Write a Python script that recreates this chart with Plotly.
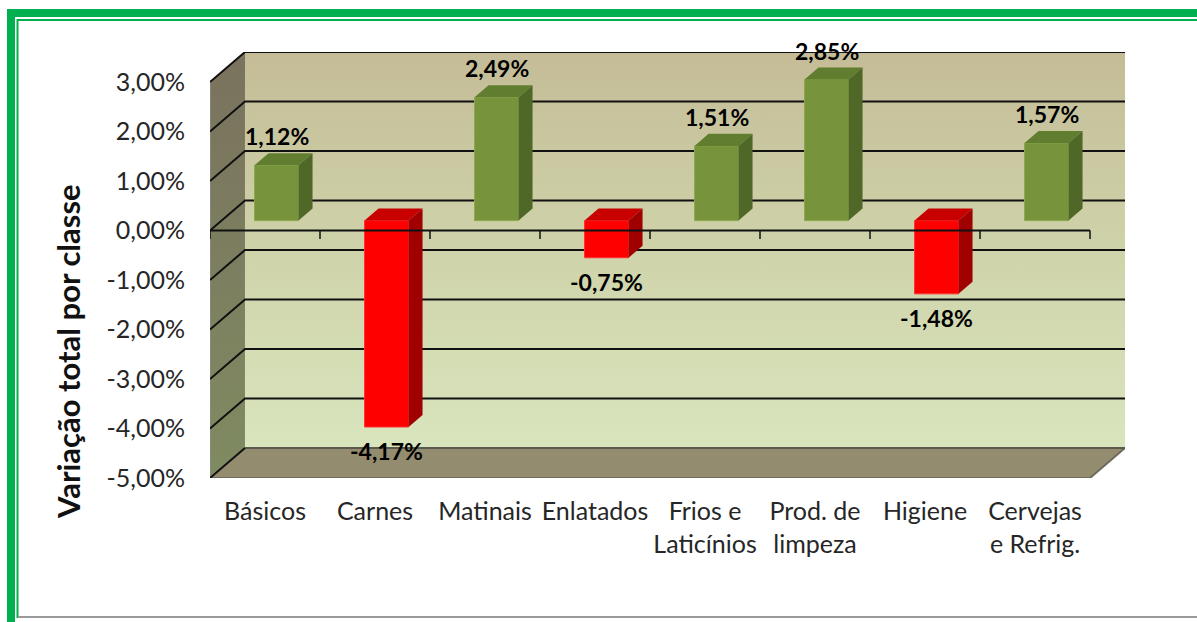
import plotly.graph_objects as go

# ---------------- data ----------------
categories = ["Básicos", "Carnes", "Matinais", "Enlatados", "Frios e<br>Laticínios",
              "Prod. de<br>limpeza", "Higiene", "Cervejas<br>e Refrig."]
values = [1.12, -4.17, 2.49, -0.75, 1.51, 2.85, -1.48, 1.57]
y_ticks = [-5, -4, -3, -2, -1, 0, 1, 2, 3]
y_title = "Variação total por classe"

# ---------------- geometry / style ----------------
W, H = 1197, 622
PL, PR, PT, PB = 210, 1125, 52, 478   # plot area in window pixels
ML, MR, MT, MB = PL, W - PR, PT, H - PB
DX, DY = 0.318, 0.607          # full depth of the 3D box in data units
F1, F2 = 0.33, 0.73            # depth fractions of bar front / back faces
BW = 0.40                      # bar width
YMIN, YMAX = y_ticks[0], y_ticks[-1]
X0, X1 = -0.5, len(categories) - 0.5
FONT = "Lato"

GREEN_F, GREEN_T, GREEN_S = "#77933c", "#617d2f", "#4f6727"
RED_F, RED_T, RED_S = "#ff0000", "#c80000", "#a00000"


def px_x(p):
    return (p - PL) / (PR - PL)


def px_y(p):
    return (PB - p) / (PB - PT)


def fmt(v):
    return f"{v:.2f}".replace(".", ",") + "%"


fig = go.Figure()


def poly(xs, ys, color, axes=("x", "y"), gradient=None):
    kw = dict(x=xs + [xs[0]], y=ys + [ys[0]], mode="lines", fill="toself",
              hoverinfo="skip", showlegend=False, xaxis=axes[0], yaxis=axes[1],
              line=dict(width=0, color=color))
    if gradient:
        kw["fillgradient"] = gradient
    else:
        kw["fillcolor"] = color
    fig.add_trace(go.Scatter(**kw))


def seg(xs, ys, color="#111111", width=2, axes=("x", "y")):
    fig.add_trace(go.Scatter(x=xs, y=ys, mode="lines", line=dict(color=color, width=width),
                             hoverinfo="skip", showlegend=False, xaxis=axes[0], yaxis=axes[1]))


# back wall (gradient)
poly([X0 + DX, X1 + DX, X1 + DX, X0 + DX], [YMIN + DY, YMIN + DY, YMAX + DY, YMAX + DY],
     "#cfd2a9",
     gradient=dict(type="vertical", start=YMIN + DY, stop=YMAX + DY,
                   colorscale=[[0, "#d9e5bd"], [0.55, "#ced1a8"], [1, "#c4bc97"]]))
# side wall
poly([X0, X0 + DX, X0 + DX, X0], [YMIN, YMIN + DY, YMAX + DY, YMAX],
     "#7c7f60",
     gradient=dict(type="vertical", start=YMIN, stop=YMAX + DY,
                   colorscale=[[0, "#7f8b61"], [1, "#7a725e"]]))
# floor
poly([X0, X1, X1 + DX, X0 + DX], [YMIN, YMIN, YMIN + DY, YMIN + DY], "#948c6f")
seg([X0, X1, X1 + DX], [YMIN, YMIN, YMIN + DY], color="#6e6a5c", width=2)
seg([X0 + DX, X1 + DX], [YMIN + DY, YMIN + DY], color="#5c5a4e", width=2)
seg([X0, X0], [YMIN, YMAX], color="#8a8a80", width=1.5)

# grid lines on back wall and side wall
for v in y_ticks[1:]:
    seg([X0, X0 + DX, X1 + DX], [v, v + DY, v + DY], color="#111111", width=2)
seg([X0, X0 + DX], [YMIN, YMIN + DY], color="#111111", width=2)

# ---------------- bars (overlay subplot so they sit above the walls) ----------------
bx = [i + F1 * DX for i in range(len(values))]
fronts = [GREEN_F if v >= 0 else RED_F for v in values]
fig.add_trace(go.Bar(x=bx, y=values, base=F1 * DY, width=BW,
                     marker=dict(color=fronts, line=dict(width=1, color=[
                         "#8aa84c" if v >= 0 else "#ff3030" for v in values])),
                     xaxis="x2", yaxis="y2", hoverinfo="skip", showlegend=False))
bdx, bdy = (F2 - F1) * DX, (F2 - F1) * DY
for i, v in enumerate(values):
    top_c = GREEN_T if v >= 0 else RED_T
    side_c = GREEN_S if v >= 0 else RED_S
    xl, xr = bx[i] - BW / 2, bx[i] + BW / 2
    t = F1 * DY + max(v, 0)
    b = F1 * DY + min(v, 0)
    poly([xl, xr, xr + bdx, xl + bdx], [t, t, t + bdy, t + bdy], top_c, axes=("x2", "y2"))
    poly([xr, xr + bdx, xr + bdx, xr], [b, b + bdy, t + bdy, t], side_c, axes=("x2", "y2"))

# front zero axis with tick marks
seg([X0, X1], [0, 0], color="#111111", width=2, axes=("x2", "y2"))
tx, ty = [], []
for k in range(len(categories) + 1):
    tx += [X0 + k, X0 + k, None]
    ty += [0, -0.17, None]
seg(tx, ty, color="#111111", width=1.5, axes=("x2", "y2"))

# data labels (anchored at the bar end, shifted in pixels)
for i, v in enumerate(values):
    fig.add_annotation(x=bx[i], y=v + F1 * DY, xref="x2", yref="y2", text=f"<b>{fmt(v)}</b>",
                       showarrow=False, font=dict(family=FONT, size=23, color="#000000"),
                       xanchor="center", yanchor="middle",
                       yshift=(29 if v >= 0 else -24))

# axis title
fig.add_annotation(x=px_x(68), y=px_y(352), xref="paper", yref="paper",
                   text=f"<b>{y_title}</b>", textangle=-90, showarrow=False,
                   font=dict(family=FONT, size=31, color="#111111"),
                   xanchor="center", yanchor="middle")

# frame
fig.add_shape(type="rect", xref="paper", yref="paper", x0=px_x(11), y0=px_y(13),
              x1=px_x(1215), y1=px_y(640), line=dict(color="#00b050", width=8))
fig.add_shape(type="rect", xref="paper", yref="paper", x0=px_x(17.5), y0=px_y(20),
              x1=px_x(1215), y1=px_y(617), line=dict(color="#00b050", width=2))
fig.add_shape(type="line", xref="paper", yref="paper", x0=px_x(18), y0=px_y(617),
              x1=px_x(1215), y1=px_y(617), line=dict(color="#9a9a9a", width=2))

rng_x = [X0, X1 + DX]
rng_y = [YMIN, YMAX + DY]
fig.update_layout(
    width=W, height=H,
    margin=dict(l=ML, r=MR, t=MT, b=MB, autoexpand=False),
    paper_bgcolor="white", plot_bgcolor="rgba(0,0,0,0)",
    showlegend=False,
    font=dict(family=FONT, color="#262626"),
    xaxis=dict(range=rng_x, tickvals=list(range(len(categories))), ticktext=categories,
               showgrid=False, zeroline=False, showline=False, ticks="",
               tickfont=dict(size=25, color="#262626"), ticklabelstandoff=16, fixedrange=True),
    yaxis=dict(range=rng_y, tickvals=y_ticks, ticktext=[fmt(v) for v in y_ticks],
               showgrid=False, zeroline=False, showline=False, ticks="",
               tickfont=dict(size=25, color="#262626"), ticklabelstandoff=24, fixedrange=True),
    xaxis2=dict(range=rng_x, overlaying="x", anchor="y2", visible=False, fixedrange=True),
    yaxis2=dict(range=rng_y, overlaying="y", anchor="x2", visible=False, fixedrange=True),
)

fig.write_html("out.html", config={"displayModeBar": False},
               post_script="document.body.style.margin='0px';"
                           "document.body.style.overflow='hidden';")
